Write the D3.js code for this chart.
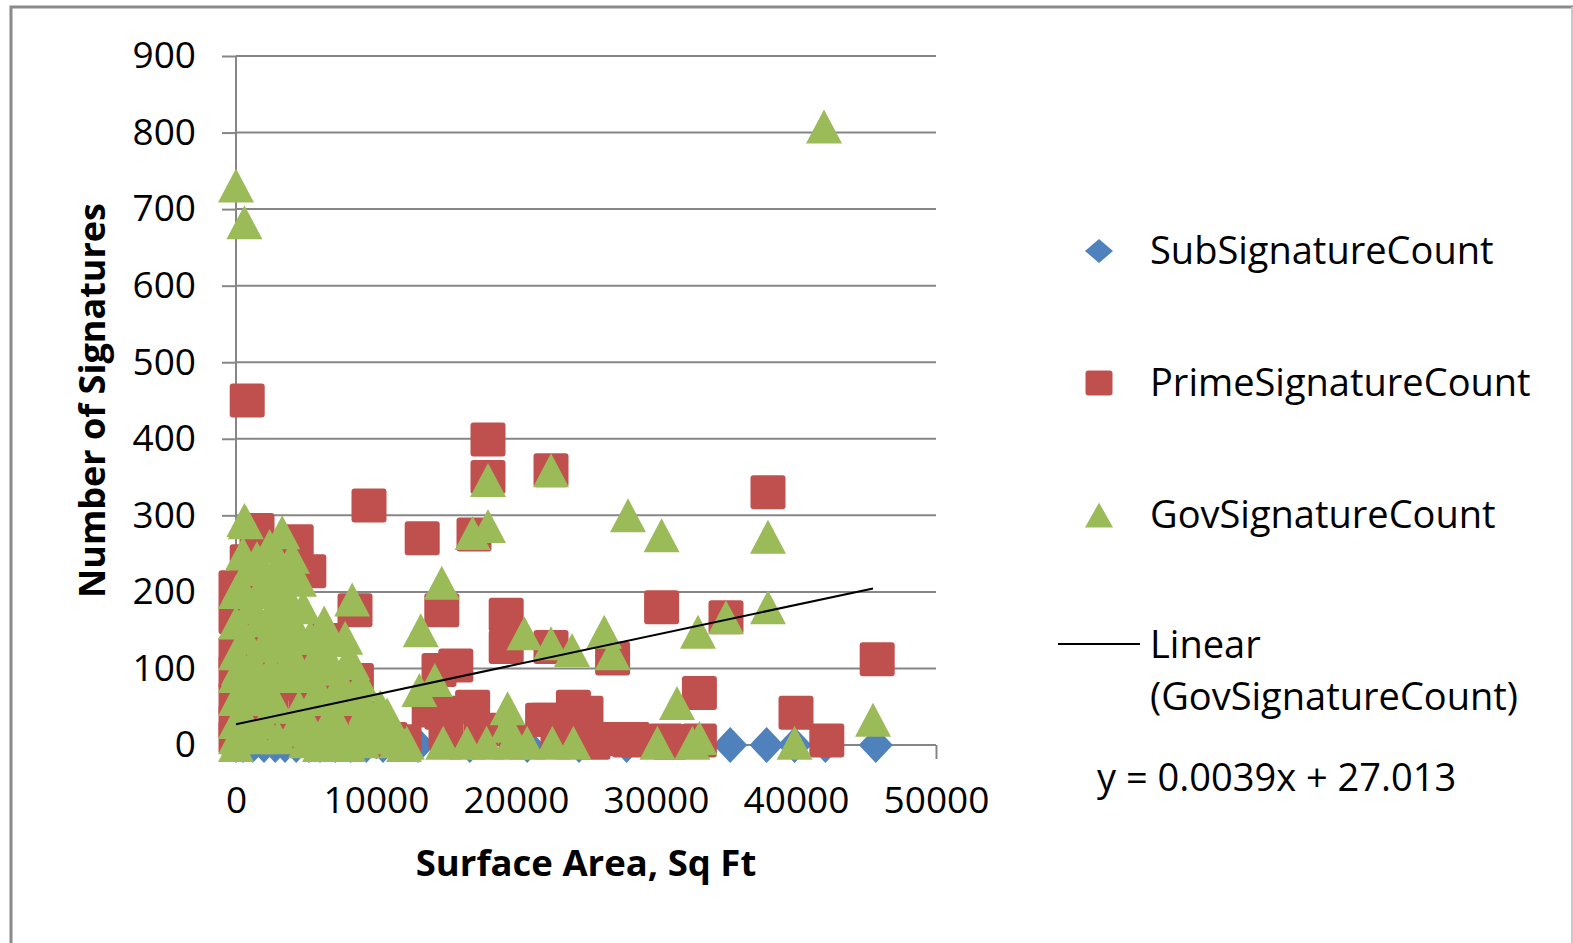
<!DOCTYPE html>
<html>
<head>
<meta charset="utf-8">
<script src="https://cdn.jsdelivr.net/npm/d3@7"></script>
<style>
  html, body { margin: 0; padding: 0; background: #fff; }
  svg { display: block; font-family: "Open Sans", sans-serif; }
</style>
</head>
<body>
<div id="chart"></div>
<script>
// Series values, [surface area, signatures]
const subPoints = [
  [0, 0], [500, 0], [1200, 0], [2000, 0], [2800, 0], [3500, 0], [4300, 0], [5200, 0],
  [6000, 0], [7100, 0], [8200, 0], [9300, 0], [10500, 0], [13000, 0], [16700, 0],
  [20800, 0], [24500, 0], [27900, 0], [35300, 0], [37900, 0], [39900, 0], [42100, 0], [45700, 0]
];

const primePoints = [
  [0, 206], [0, 167], [0, 120], [0, 95], [0, 60], [0, 30], [0, 10], [800, 450], [800, 240],
  [1500, 281], [1500, 150], [4300, 266], [5200, 227], [300, 180], [1000, 140], [2000, 120],
  [3000, 100], [4000, 80], [5000, 60], [6000, 40], [7000, 30], [8000, 20], [9000, 35],
  [10000, 15], [11000, 8], [700, 90], [1500, 60], [2500, 40], [3500, 20], [4500, 10], [500, 30],
  [6500, 137], [8600, 85], [7200, 75], [5800, 100], [8500, 176], [9500, 313],
  [13300, 270], [17000, 275], [18000, 399], [18000, 350], [22500, 359], [14700, 176],
  [30400, 180], [19300, 170], [19300, 128], [22500, 128], [26900, 113], [15700, 104],
  [14500, 98], [16900, 50], [24100, 50], [14700, 42], [13800, 45], [22200, 33], [21900, 33],
  [25000, 42], [26700, 8], [28300, 8], [38000, 330], [35000, 167], [45800, 112], [33100, 68],
  [40000, 42], [42200, 6], [28100, 6], [30700, 6], [33100, 6], [12000, 5], [15000, 15],
  [17500, 20], [20000, 5], [23000, 10], [25500, 3], [31000, 3]
];

const govPoints = [
  [0, 200], [0, 160], [0, 120], [0, 90], [0, 60], [0, 30], [0, 10], [0, 0], [300, 210],
  [700, 291], [1000, 180], [1500, 244], [1700, 163], [2000, 130], [2500, 100], [2900, 206],
  [3300, 278], [3400, 154], [4000, 246], [4500, 216], [4000, 120], [4800, 180], [5300, 141],
  [5000, 90], [5500, 60], [6000, 120], [6500, 100], [6900, 137], [7000, 40], [7500, 80],
  [8000, 60], [8300, 107], [8300, 190], [8800, 30], [9300, 50], [9800, 20], [10300, 50],
  [10800, 10], [11500, 5], [12000, 0], [1000, 60], [2000, 30], [3000, 10], [4000, 20],
  [5000, 5], [6000, 0], [7000, 10], [8000, 0], [9000, 5], [1500, 90], [2500, 150], [3500, 200],
  [500, 250], [200, 100], [3800, 230], [2200, 220], [1200, 110], [6300, 160],
  [500, 40], [1000, 20], [1500, 10], [2000, 70], [2500, 60], [3000, 50], [3500, 90],
  [3000, 130], [4500, 50], [4500, 140], [5500, 110], [6000, 70], [6500, 30], [7000, 100],
  [7500, 20], [8000, 110], [8500, 70], [9000, 80], [9500, 10], [700, 140], [1800, 200],
  [2700, 180], [3800, 170], [4200, 100], [5800, 140], [6800, 60], [7800, 140], [300, 60],
  [1200, 230], [2400, 260], [3100, 240], [4600, 30], [5200, 30], [10000, 30], [10800, 40],
  [11200, 20],
  [0, 731], [600, 683], [600, 294], [42000, 808], [18000, 346], [22500, 359], [28000, 300],
  [30400, 274], [18000, 286], [16900, 277], [14700, 212], [13200, 150], [20600, 146],
  [22500, 133], [24000, 124], [26300, 148], [26900, 120], [13100, 72], [14200, 85],
  [19400, 48], [19400, 25], [38000, 272], [38000, 180], [33000, 148], [35000, 167],
  [31500, 55], [45500, 33], [30100, 3], [33100, 9], [39900, 3], [12200, 3], [14800, 3],
  [16500, 3], [17900, 3], [19600, 3], [20800, 3], [22600, 3], [24100, 3], [32600, 3]
];

const xTicks = [0, 10000, 20000, 30000, 40000, 50000];
const yTicks = [0, 100, 200, 300, 400, 500, 600, 700, 800, 900];

const trendSlope = 0.0039;
const trendIntercept = 27.013;

const series = [
  { name: "SubSignatureCount", points: subPoints, shape: "diamond", color: "#4F81BD" },
  { name: "PrimeSignatureCount", points: primePoints, shape: "square", color: "#C0504D" },
  { name: "GovSignatureCount", points: govPoints, shape: "triangle", color: "#9BBB59" }
];

const width = 1573, height = 943;
const plot = { left: 236, right: 936, top: 56, bottom: 745 };

const svg = d3.select("#chart").append("svg")
  .attr("width", width)
  .attr("height", height);

// frame around the chart
svg.append("path")
  .attr("d", `M11,${height}V7H${width}`)
  .attr("fill", "none")
  .attr("stroke", "#8a8a8a")
  .attr("stroke-width", 3);
svg.append("line")
  .attr("x1", width - 1).attr("x2", width - 1)
  .attr("y1", 7).attr("y2", height)
  .attr("stroke", "#c8c8c8")
  .attr("stroke-width", 2);

const x = d3.scaleLinear().domain([0, 50000]).range([plot.left, plot.right]);
const y = d3.scaleLinear().domain([0, 900]).range([plot.bottom, plot.top]);

// horizontal gridlines
svg.append("g")
  .selectAll("line")
  .data(yTicks)
  .join("line")
  .attr("x1", plot.left)
  .attr("x2", plot.right)
  .attr("y1", d => y(d))
  .attr("y2", d => y(d))
  .attr("stroke", "#868686")
  .attr("stroke-width", 2);

// axes
const yAxis = svg.append("g")
  .attr("transform", `translate(${plot.left},0)`)
  .call(d3.axisLeft(y).tickValues(yTicks).tickSize(14).tickPadding(26).tickFormat(d3.format("d")));

const xAxis = svg.append("g")
  .attr("transform", `translate(0,${plot.bottom})`)
  .call(d3.axisBottom(x).tickValues(xTicks).tickSize(14).tickPadding(28).tickFormat(d3.format("d")));

[yAxis, xAxis].forEach(ax => {
  ax.select(".domain").attr("stroke", "#868686").attr("stroke-width", 2);
  ax.selectAll(".tick line").attr("stroke", "#868686").attr("stroke-width", 2);
  ax.selectAll(".tick text")
    .attr("font-family", "Open Sans")
    .attr("font-size", 37)
    .attr("fill", "#000");
});
yAxis.select(".domain").attr("d", `M0,${plot.top}V${plot.bottom + 14}`);
xAxis.select(".domain").attr("d", `M${plot.left - 14},0H${plot.right}`);

// marker shapes
function markerPath(shape, w, h) {
  const a = w / 2, b = h / 2;
  if (shape === "diamond") return `M0,${-b}L${a},0L0,${b}L${-a},0Z`;
  if (shape === "triangle") return `M0,${-b}L${a},${b}L${-a},${b}Z`;
  const r = 3;
  return `M${-a + r},${-b}H${a - r}Q${a},${-b} ${a},${-b + r}V${b - r}Q${a},${b} ${a - r},${b}` +
    `H${-a + r}Q${-a},${b} ${-a},${b - r}V${-b + r}Q${-a},${-b} ${-a + r},${-b}Z`;
}
const plotSize = { diamond: [34, 36], square: [35, 34], triangle: [36, 34] };
const legendSize = { diamond: [28, 24], square: [27, 25], triangle: [28, 25] };

series.forEach(s => {
  svg.append("g")
    .selectAll("path")
    .data(s.points)
    .join("path")
    .attr("transform", d => `translate(${x(d[0])},${y(d[1])})`)
    .attr("d", markerPath(s.shape, ...plotSize[s.shape]))
    .attr("fill", s.color);
});

// linear trendline for GovSignatureCount
const govExtent = d3.extent(govPoints, d => d[0]);
svg.append("line")
  .attr("x1", x(govExtent[0]))
  .attr("y1", y(trendSlope * govExtent[0] + trendIntercept))
  .attr("x2", x(govExtent[1]))
  .attr("y2", y(trendSlope * govExtent[1] + trendIntercept))
  .attr("stroke", "#000")
  .attr("stroke-width", 2);

// axis titles
svg.append("text")
  .attr("x", (plot.left + plot.right) / 2)
  .attr("y", 876)
  .attr("text-anchor", "middle")
  .attr("font-size", 36.5)
  .attr("font-weight", "bold")
  .text("Surface Area, Sq Ft");

svg.append("text")
  .attr("transform", `translate(105,${(plot.top + plot.bottom) / 2}) rotate(-90)`)
  .attr("text-anchor", "middle")
  .attr("font-size", 36)
  .attr("font-weight", "bold")
  .text("Number of Signatures");

// legend
const legendRows = [251, 383, 515];
const legend = svg.append("g").attr("font-size", 38);
series.forEach((s, i) => {
  legend.append("path")
    .attr("transform", `translate(1099,${legendRows[i]})`)
    .attr("d", markerPath(s.shape, ...legendSize[s.shape]))
    .attr("fill", s.color);
  legend.append("text")
    .attr("x", 1150)
    .attr("y", legendRows[i] + 13)
    .text(s.name);
});
legend.append("line")
  .attr("x1", 1058).attr("x2", 1140)
  .attr("y1", 644).attr("y2", 644)
  .attr("stroke", "#000")
  .attr("stroke-width", 2);
legend.append("text")
  .attr("x", 1150).attr("y", 658)
  .text("Linear");
legend.append("text")
  .attr("x", 1150).attr("y", 710)
  .text("(GovSignatureCount)");
legend.append("text")
  .attr("x", 1097).attr("y", 791)
  .text(`y = ${trendSlope}x + ${trendIntercept}`);
</script>
</body>
</html>
